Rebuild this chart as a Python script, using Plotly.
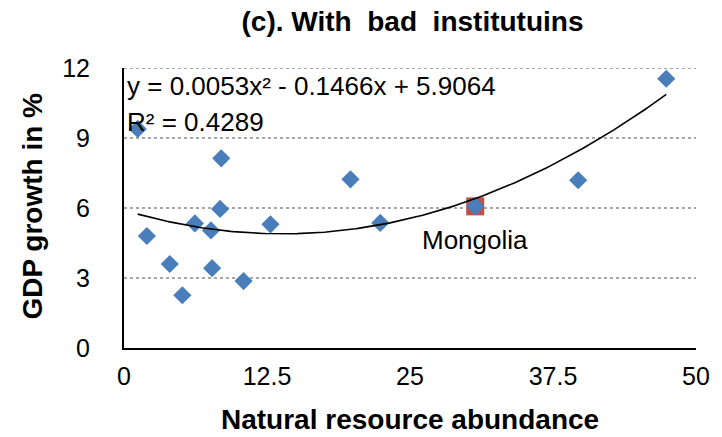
import numpy as np
import plotly.graph_objects as go

# Data
resource = [1.2, 2.0, 4.0, 5.1, 6.2, 7.6, 7.7, 8.4, 8.5, 10.45, 12.8, 19.8, 22.4, 30.7, 39.7, 47.4]
growth = [9.39, 4.8, 3.6, 2.26, 5.34, 5.04, 3.42, 5.96, 8.13, 2.87, 5.3, 7.23, 5.36, 6.07, 7.19, 11.54]
mongolia_x = [30.7]
mongolia_y = [6.07]
coef = [0.0053, -0.1466, 5.9064]
x_ticks = [0, 12.5, 25, 37.5, 50]
x_tick_labels = ["0", "12.5", "25", "37.5", "50"]
y_ticks = [0, 3, 6, 9, 12]

FONT = "Liberation Sans, Arial, sans-serif"
NB = "\u00a0"

xt = np.linspace(min(resource), max(resource), 200)
yt = np.polyval(coef, xt)

fig = go.Figure()
# horizontal dotted gridlines
for yv in y_ticks[1:]:
    fig.add_shape(type="line", xref="x", yref="y", x0=0, x1=50, y0=yv, y1=yv,
                  line=dict(color="#a6a6a6", width=2, dash="dot"), layer="below")

fig.add_trace(go.Scatter(x=mongolia_x, y=mongolia_y, mode="markers",
                         marker=dict(symbol="square", size=18, color="#C0504D"),
                         hoverinfo="skip", showlegend=False, cliponaxis=False))
fig.add_trace(go.Scatter(x=resource, y=growth, mode="markers",
                         marker=dict(symbol="diamond", size=14, color="#4A7EBB"),
                         showlegend=False, cliponaxis=False))
fig.add_trace(go.Scatter(x=xt, y=yt, mode="lines",
                         line=dict(color="black", width=1.6),
                         hoverinfo="skip", showlegend=False))

fig.add_annotation(x=0.1, y=11.21, xref="x", yref="y", xanchor="left", yanchor="middle",
                   text="y = 0.0053x² - 0.1466x + 5.9064", showarrow=False,
                   font=dict(family=FONT, size=26, color="black"))
fig.add_annotation(x=0.1, y=9.67, xref="x", yref="y", xanchor="left", yanchor="middle",
                   text="R² = 0.4289", showarrow=False,
                   font=dict(family=FONT, size=26, color="black"))
fig.add_annotation(x=30.7, y=4.65, xref="x", yref="y", xanchor="center", yanchor="middle",
                   text="Mongolia", showarrow=False,
                   font=dict(family=FONT, size=26, color="black"))

# axis titles
fig.add_annotation(x=0.5, y=0, xref="paper", yref="paper", xanchor="center", yanchor="bottom",
                   yshift=-89, text="<b>Natural resource abundance</b>", showarrow=False,
                   font=dict(family=FONT, size=28, color="black"))
fig.add_annotation(x=0, y=0.505, xref="paper", yref="paper", xanchor="center", yanchor="middle",
                   xshift=-91, textangle=-90, text="<b>GDP growth in %</b>", showarrow=False,
                   font=dict(family=FONT, size=28, color="black"))

fig.update_layout(
    width=722, height=437,
    margin=dict(l=124, r=19, t=68, b=89),
    paper_bgcolor="white", plot_bgcolor="white",
    font=dict(family=FONT, color="black"),
    title=dict(text=f"<b>(c). With{NB} bad{NB} institutuins</b>", x=412.5 / 722, xanchor="center",
               y=0.952, yanchor="middle", font=dict(family=FONT, size=28, color="black")),
    xaxis=dict(range=[0, 50], tickvals=x_ticks, ticktext=x_tick_labels,
               showgrid=False, zeroline=False, showline=True, linecolor="black", linewidth=2,
               ticks="", ticklabelstandoff=5, tickfont=dict(family=FONT, size=25, color="black")),
    yaxis=dict(range=[0, 12], tickvals=y_ticks,
               showgrid=False, zeroline=False, showline=True, linecolor="black", linewidth=2,
               ticks="", ticklabelstandoff=27, tickfont=dict(family=FONT, size=25, color="black")),
)

fig.write_html("out.html", config={"displayModeBar": False},
               post_script="document.body.style.margin='0';document.body.style.overflow='hidden';")
